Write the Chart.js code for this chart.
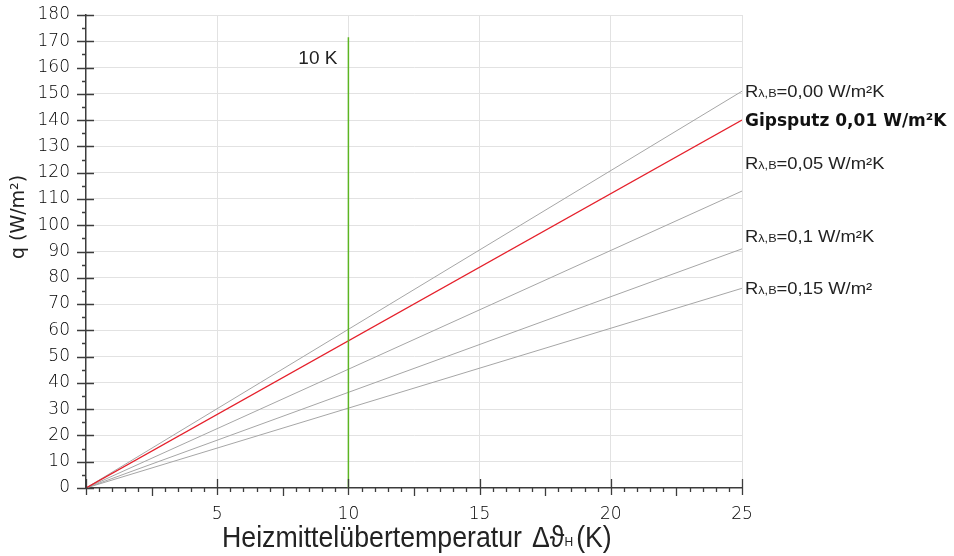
<!DOCTYPE html>
<html>
<head>
<meta charset="utf-8">
<script src="https://cdn.jsdelivr.net/npm/chart.js@4"></script>
<style>
html,body{margin:0;background:#fff}
</style>
</head>
<body>
<canvas id="chart" width="954" height="556"></canvas>
<script>
/* q over heating medium temperature, one line per floor covering resistance */
const xMax = 25;
const yMax = 180;
const seriesLabels = ['Rλ,B=0,00 W/m²K', 'Gipsputz 0,01 W/m²K', 'Rλ,B=0,05 W/m²K', 'Rλ,B=0,1 W/m²K', 'Rλ,B=0,15 W/m²'];
const qAtMax = [151, 140, 113, 91, 76];
const labelAt = [151, 140, 123.5, 96, 76];
const markerX = 10;
const markerTop = 171.5;
const markerText = '10 K';
const markerTextAt = 164;

const gray = '#a6a6a6';
const red = '#e5202b';
const green = '#5cb522';
const gridCol = '#e2e2e2';
const axisCol = '#3c3c3c';
const textCol = '#222';

const datasets = qAtMax.map((v, i) => ({
  data: [{x: 0, y: 0}, {x: xMax, y: v}],
  showLine: true,
  borderColor: i === 1 ? red : gray,
  borderWidth: i === 1 ? 1.3 : 1,
  pointRadius: 0,
  order: i === 1 ? 1 : 2
}));
datasets.push({
  data: [{x: markerX, y: 0}, {x: markerX, y: markerTop}],
  showLine: true,
  borderColor: green,
  borderWidth: 1.5,
  pointRadius: 0,
  order: 0
});

function stretched(ctx, text, x, y, sx){
  ctx.save();
  ctx.translate(x, y);
  ctx.scale(sx, 1);
  ctx.fillText(text, 0, 0);
  ctx.restore();
  return ctx.measureText(text).width * sx;
}

const decor = {
  id: 'decor',
  afterDraw(chart){
    const {ctx, scales: {x, y}} = chart;
    const x0 = x.getPixelForValue(0);
    const y0 = y.getPixelForValue(0);
    ctx.save();
    // axis tick marks
    ctx.strokeStyle = axisCol;
    ctx.lineWidth = 1.3;
    ctx.beginPath();
    for(let v = 0; v <= yMax; v += 5){
      const py = Math.round(y.getPixelForValue(v)) + 0.5;
      if(v % 10 === 0){ ctx.moveTo(x0 - 9, py); ctx.lineTo(x0 + 8, py); }
      else { ctx.moveTo(x0 - 4, py); ctx.lineTo(x0, py); }
    }
    for(let i = 0; i <= xMax * 2; i++){
      const px = Math.round(x.getPixelForValue(i / 2)) + 0.5;
      if(i % 10 === 0){ ctx.moveTo(px, y0 - 9); ctx.lineTo(px, y0 + 7); }
      else if(i % 5 === 0){ ctx.moveTo(px, y0); ctx.lineTo(px, y0 + 8); }
      else { ctx.moveTo(px, y0); ctx.lineTo(px, y0 + 4); }
    }
    ctx.stroke();

    ctx.fillStyle = textCol;
    ctx.textBaseline = 'alphabetic';
    ctx.textAlign = 'left';

    // line labels
    const lx = x.getPixelForValue(xMax) + 3;
    seriesLabels.forEach((lab, i) => {
      const base = y.getPixelForValue(labelAt[i]) + 6;
      if(lab.startsWith('Rλ,B')){
        const sx = 1.15;
        let cx = lx;
        ctx.font = '16px "Liberation Sans", Arial, sans-serif';
        cx += stretched(ctx, 'R', cx, base, sx);
        ctx.font = '11px "Liberation Sans", Arial, sans-serif';
        cx += stretched(ctx, 'λ,B', cx, base, sx);
        ctx.font = '16px "Liberation Sans", Arial, sans-serif';
        stretched(ctx, lab.slice(4), cx, base, sx);
      } else {
        ctx.font = 'bold 17px "DejaVu Sans", sans-serif';
        ctx.fillStyle = '#111';
        ctx.fillText(lab, lx, base);
        ctx.fillStyle = textCol;
      }
    });

    // marker label
    ctx.font = '19px "Liberation Sans", Arial, sans-serif';
    ctx.textAlign = 'right';
    ctx.fillText(markerText, x.getPixelForValue(markerX) - 11, y.getPixelForValue(markerTextAt) + 7);

    // x title
    ctx.textAlign = 'left';
    ctx.font = '30px "Liberation Sans", Arial, sans-serif';
    const word = 'Heizmittelübertemperatur';
    const sx = 300 / ctx.measureText(word).width;
    let cx = 222;
    const tb = 547;
    cx += stretched(ctx, word, cx, tb, sx) + 10;
    cx += stretched(ctx, 'Δϑ', cx, tb, sx);
    ctx.font = '12px "Liberation Sans", Arial, sans-serif';
    cx += stretched(ctx, 'H', cx, tb - 1, 1) + 3;
    ctx.font = '30px "Liberation Sans", Arial, sans-serif';
    stretched(ctx, '(K)', cx, tb, sx);

    // y title
    ctx.font = '19px "DejaVu Sans", sans-serif';
    ctx.textAlign = 'center';
    ctx.textBaseline = 'middle';
    ctx.translate(19.5, 217);
    ctx.rotate(-Math.PI / 2);
    ctx.fillText('q (W/m²)', 0, 0);
    ctx.restore();
  }
};

const tickFont = {family: '"DejaVu Sans", sans-serif', size: 17, weight: 200};

new Chart(document.getElementById('chart'), {
  type: 'scatter',
  data: {datasets},
  options: {
    responsive: false,
    animation: false,
    layout: {padding: {top: 15, right: 212, left: 0, bottom: 0}},
    plugins: {legend: {display: false}, tooltip: {enabled: false}},
    scales: {
      x: {
        type: 'linear',
        min: 0,
        max: xMax,
        afterFit: s => { s.height = 68; s.paddingLeft = 0; s.paddingRight = 0; },
        border: {color: axisCol, width: 1.5},
        grid: {
          color: c => c.tick && c.tick.value === 0 ? 'rgba(0,0,0,0)' : gridCol,
          drawTicks: false
        },
        ticks: {
          stepSize: 5,
          padding: 16,
          color: '#000',
          font: tickFont,
          callback: v => v === 0 ? '' : v
        }
      },
      y: {
        min: 0,
        max: yMax,
        afterFit: s => { s.width = 86; s.paddingTop = 0; s.paddingBottom = 0; },
        border: {color: axisCol, width: 1.5},
        grid: {
          color: c => c.tick && c.tick.value === 0 ? 'rgba(0,0,0,0)' : gridCol,
          drawTicks: false
        },
        ticks: {
          stepSize: 10,
          padding: 16,
          color: '#000',
          font: tickFont
        }
      }
    }
  },
  plugins: [decor]
});
</script>
</body>
</html>
